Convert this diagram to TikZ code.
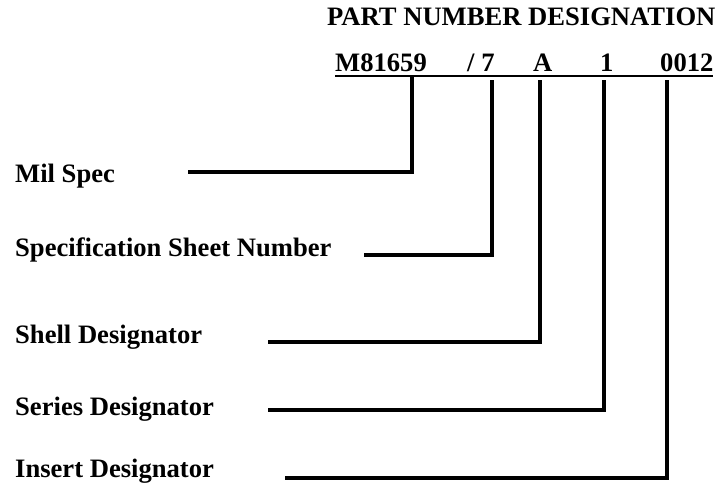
\documentclass[tikz,border=0pt]{standalone}
\usepackage{fontspec}
\setmainfont{Liberation Serif}
\begin{document}
\begin{tikzpicture}[x=1pt,y=-1pt,
  txt/.style={anchor=base west,inner sep=0pt,font=\fontsize{26.6pt}{30pt}\selectfont\bfseries},
  conn/.style={line width=3.6pt,line join=miter,black},
  uline/.style={line width=2.2pt,black}]
\useasboundingbox (0,0) rectangle (725,482);
% title
\node[txt] (title) at (327,25) {PART NUMBER DESIGNATION};
% part number fields
\node[txt] (pM) at (335,71) {M81659};
\node[txt] (pS) at (467,71) {/ 7};
\node[txt] (pA) at (533,71) {A};
\node[txt] (p1) at (600,71) {1};
\node[txt] (pI) at (660,71) {0012};
\coordinate (u0) at (335,76);
\coordinate (u1) at (713,76);
\draw[uline] (u0) -- (u1);
% labels
\node[txt] (lM) at (15,182) {Mil Spec};
\node[txt] (lS) at (15,256) {Specification Sheet Number};
\node[txt] (lA) at (15,343) {Shell Designator};
\node[txt] (l1) at (15,415) {Series Designator};
\node[txt] (lI) at (15,477) {Insert Designator};
% connector ends
\coordinate (sM) at (188,172);
\coordinate (sS) at (364,255);
\coordinate (sA) at (268,342);
\coordinate (s1) at (268,410);
\coordinate (sI) at (285,478);
\coordinate (tM) at (412,76);
\coordinate (tS) at (492,80);
\coordinate (tA) at (540,80);
\coordinate (t1) at (604,80);
\coordinate (tI) at (667,80);
\draw[conn] (sM) -| (tM);
\draw[conn] (sS) -| (tS);
\draw[conn] (sA) -| (tA);
\draw[conn] (s1) -| (t1);
\draw[conn] (sI) -| (tI);
\end{tikzpicture}
\end{document}
